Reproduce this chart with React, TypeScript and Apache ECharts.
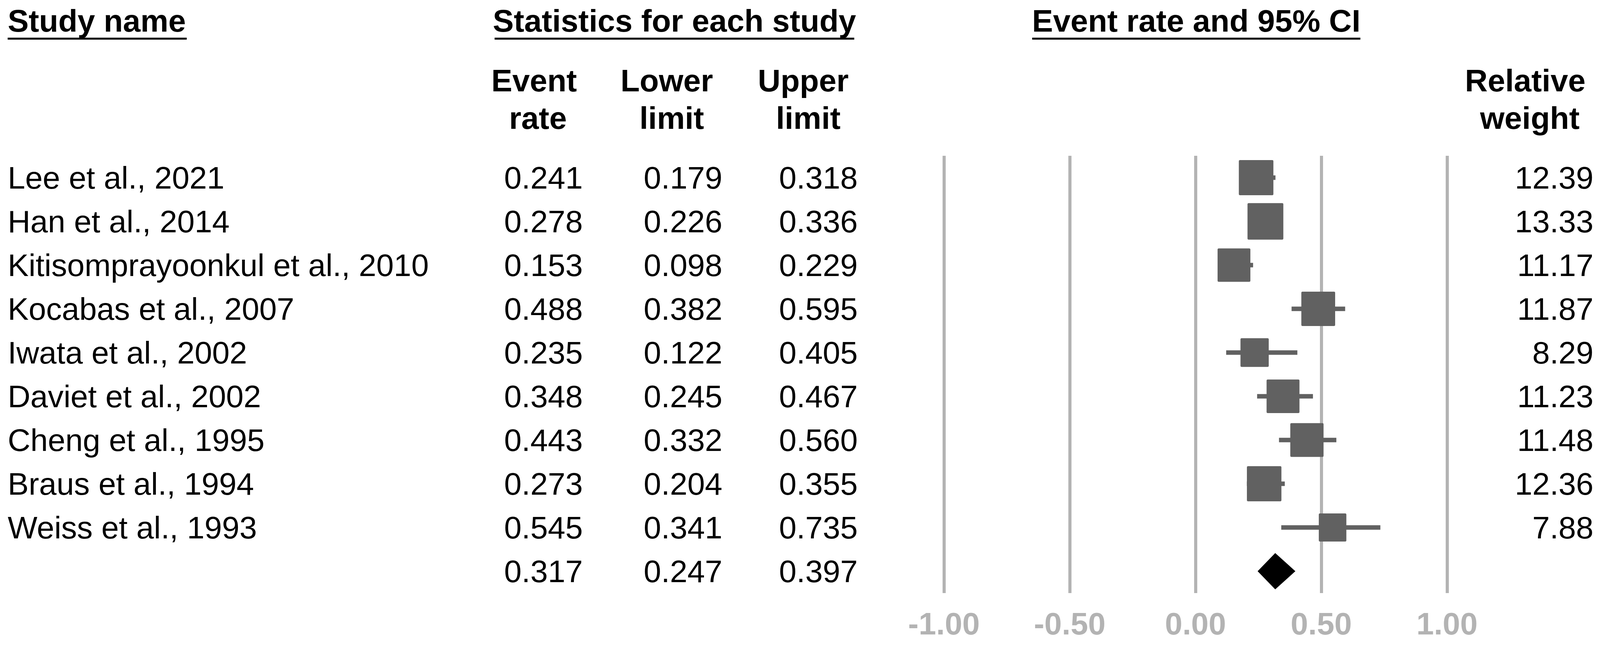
import React, { useEffect, useRef } from "react";
import * as echarts from "echarts";

const studyNames = [
  "Lee et al., 2021",
  "Han et al., 2014",
  "Kitisomprayoonkul et al., 2010",
  "Kocabas et al., 2007",
  "Iwata et al., 2002",
  "Daviet et al., 2002",
  "Cheng et al., 1995",
  "Braus et al., 1994",
  "Weiss et al., 1993",
];
const eventRates = [0.241, 0.278, 0.153, 0.488, 0.235, 0.348, 0.443, 0.273, 0.545];
const lowerLimits = [0.179, 0.226, 0.098, 0.382, 0.122, 0.245, 0.332, 0.204, 0.341];
const upperLimits = [0.318, 0.336, 0.229, 0.595, 0.405, 0.467, 0.56, 0.355, 0.735];
const relativeWeights = [12.39, 13.33, 11.17, 11.87, 8.29, 11.23, 11.48, 12.36, 7.88];
const summaryRate = 0.317;
const summaryLower = 0.247;
const summaryUpper = 0.397;
const xTicks = [-1, -0.5, 0, 0.5, 1];

const REF_W = 4173;
const REF_H = 1652;
const FONT = '"Liberation Sans", Arial, Helvetica, sans-serif';
const MARK = "#616161";
const GRIDC = "#b3b3b3";

export default function App() {
  const ref = useRef<HTMLDivElement>(null);
  const W = Math.min(REF_W, typeof window !== "undefined" && window.innerWidth ? window.innerWidth : REF_W);
  const SX = W / REF_W;
  useEffect(() => {
    if (!ref.current) return;
    const chart = echarts.init(ref.current, undefined, { renderer: "svg" });
    const X = (v: number) => v * SX;
    const FS = 82 * SX;
    const n = studyNames.length;
    const fmt3 = (v: number) => v.toFixed(3);
    const nameCats = [...studyNames, ""];
    const rateCats = [...eventRates.map(fmt3), fmt3(summaryRate)];
    const lowerCats = [...lowerLimits.map(fmt3), fmt3(summaryLower)];
    const upperCats = [...upperLimits.map(fmt3), fmt3(summaryUpper)];
    const weightCats = [...relativeWeights.map((v) => v.toFixed(2)), ""];

    const headerText = (text: string, x: number, y: number, align: string) => ({
      type: "text",
      x: X(x),
      y,
      silent: true,
      style: {
        text,
        fill: "#000",
        fontSize: FS,
        fontWeight: "bold",
        fontFamily: FONT,
        align,
        textAlign: align,
        verticalAlign: "middle",
        textVerticalAlign: "middle",
      },
    });
    const underline = (x1: number, x2: number, y: number) => ({
      type: "line",
      silent: true,
      shape: { x1: X(x1), y1: y, x2: X(x2), y2: y },
      style: { stroke: "#000", lineWidth: 5 },
    });

    const catAxis = (data: string[], position: string, margin: number, align: string) => ({
      type: "category",
      gridIndex: 0,
      data,
      inverse: true,
      position,
      offset: 0,
      axisLine: { show: false },
      axisTick: { show: false },
      splitLine: { show: false },
      axisLabel: {
        interval: 0,
        margin: X(margin),
        align,
        verticalAlign: "middle",
        fontSize: FS,
        fontFamily: FONT,
        color: "#000",
      },
    });

    const studyData = studyNames.map((_, i) => [
      i,
      eventRates[i],
      lowerLimits[i],
      upperLimits[i],
      relativeWeights[i],
    ]);

    const option: any = {
      animation: false,
      backgroundColor: "#fff",
      grid: {
        left: X(2462),
        right: X(399),
        top: 399,
        bottom: 133,
        containLabel: false,
        outerBoundsMode: "none",
      },
      xAxis: {
        type: "value",
        min: xTicks[0],
        max: xTicks[xTicks.length - 1],
        interval: xTicks[1] - xTicks[0],
        axisLine: { show: false },
        axisTick: { show: false },
        splitLine: { show: true, lineStyle: { color: GRIDC, width: 8 } },
        axisLabel: {
          show: true,
          showMinLabel: true,
          showMaxLabel: true,
          margin: 38,
          fontSize: FS,
          fontWeight: "bold",
          fontFamily: FONT,
          color: GRIDC,
          formatter: (v: number) => v.toFixed(2),
        },
      },
      yAxis: [
        catAxis(nameCats, "left", 2442, "left"),
        catAxis(rateCats, "left", 942, "right"),
        catAxis(lowerCats, "left", 578, "right"),
        catAxis(upperCats, "left", 225, "right"),
        catAxis(weightCats, "right", 382, "right"),
      ],
      graphic: [
        headerText("Study name", 20, 53, "left"),
        underline(20, 487, 99),
        headerText("Statistics for each study", 1759, 53, "center"),
        underline(1290, 2228, 99),
        headerText("Event rate and 95% CI", 3120, 53, "center"),
        underline(2692, 3548, 99),
        headerText("Event", 1393, 206, "center"),
        headerText("rate", 1403, 302, "center"),
        headerText("Lower", 1739, 206, "center"),
        headerText("limit", 1752, 302, "center"),
        headerText("Upper", 2095, 206, "center"),
        headerText("limit", 2108, 302, "center"),
        headerText("Relative", 3978, 206, "center"),
        headerText("weight", 3990, 302, "center"),
      ],
      series: [
        {
          type: "custom",
          xAxisIndex: 0,
          yAxisIndex: 0,
          silent: true,
          encode: { x: [1, 2, 3], y: 0 },
          data: studyData,
          renderItem: (_p: any, api: any) => {
            const yi = api.value(0);
            const c = api.coord([api.value(1), yi]);
            const l = api.coord([api.value(2), yi]);
            const h = api.coord([api.value(3), yi]);
            const s = 25.6 * Math.sqrt(api.value(4));
            const sw = s * SX;
            return {
              type: "group",
              children: [
                {
                  type: "line",
                  shape: { x1: l[0], y1: l[1], x2: h[0], y2: h[1] },
                  style: { stroke: MARK, lineWidth: 11.5 },
                },
                {
                  type: "rect",
                  shape: { x: c[0] - sw / 2, y: c[1] - s / 2, width: sw, height: s, r: 3 },
                  style: { fill: MARK },
                },
              ],
            };
          },
        },
        {
          type: "custom",
          xAxisIndex: 0,
          yAxisIndex: 0,
          silent: true,
          encode: { x: [1, 2, 3], y: 0 },
          data: [[n, summaryRate, summaryLower, summaryUpper]],
          renderItem: (_p: any, api: any) => {
            const yi = api.value(0);
            const c = api.coord([api.value(1), yi]);
            const l = api.coord([api.value(2), yi]);
            const h = api.coord([api.value(3), yi]);
            const hh = 46.5;
            return {
              type: "polygon",
              shape: {
                points: [
                  [l[0], c[1]],
                  [c[0], c[1] - hh],
                  [h[0], c[1]],
                  [c[0], c[1] + hh],
                ],
              },
              style: { fill: "#000" },
            };
          },
        },
      ],
    };
    chart.setOption(option);
    return () => chart.dispose();
  }, [SX]);
  return (
    <div
      ref={ref}
      style={{ position: "absolute", left: 0, top: 0, width: W, height: REF_H, background: "#fff" }}
    />
  );
}
